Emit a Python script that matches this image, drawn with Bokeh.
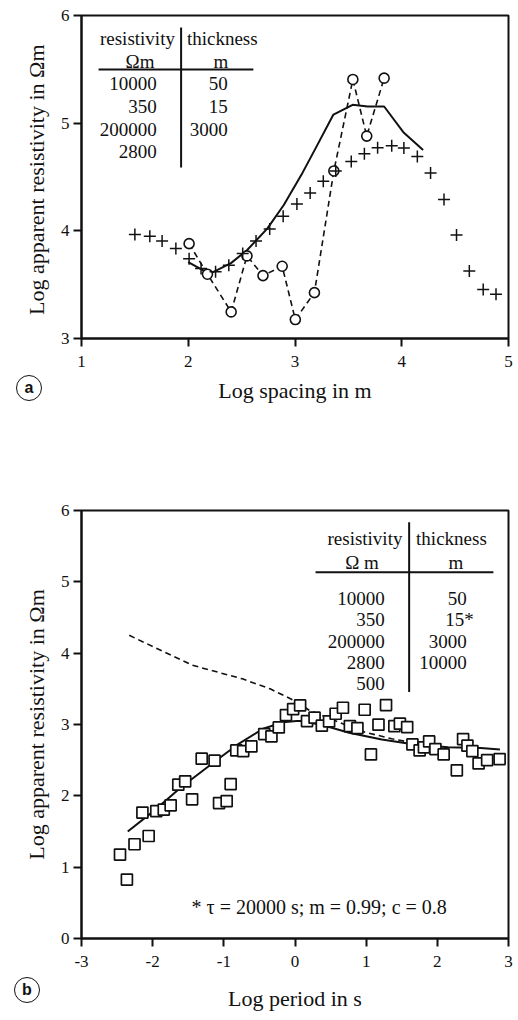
from bokeh.plotting import figure
from bokeh.models import Range1d, FixedTicker, PrintfTickFormatter, Div
from bokeh.layouts import column
from bokeh.core.properties import value
from bokeh.embed import file_html
from bokeh.resources import INLINE

# ---------------- data: panel a ----------------
a_cross_x = [1.50, 1.64, 1.755, 1.884, 2.008, 2.12, 2.256, 2.38, 2.51, 2.635, 2.763, 2.889, 3.018, 3.142,
             3.265, 3.382, 3.527, 3.65, 3.774, 3.906, 4.02, 4.146, 4.27, 4.396, 4.513, 4.633, 4.763, 4.883]
a_cross_y = [3.965, 3.95, 3.906, 3.835, 3.74, 3.65, 3.62, 3.68, 3.79, 3.906, 4.017, 4.135, 4.25, 4.351,
             4.46, 4.556, 4.645, 4.716, 4.772, 4.79, 4.769, 4.69, 4.537, 4.29, 3.962, 3.628, 3.454, 3.41]
a_circ_x = [2.008, 2.18, 2.402, 2.55, 2.70, 2.88, 3.003, 3.182, 3.364, 3.542, 3.672, 3.835]
a_circ_y = [3.881, 3.597, 3.247, 3.767, 3.584, 3.671, 3.176, 3.426, 4.556, 5.406, 4.88, 5.418]
a_model_x = [2.0, 2.2, 2.40, 2.55, 2.74, 2.895, 3.06, 3.20, 3.36, 3.54, 3.68, 3.835, 4.02, 4.2]
a_model_y = [3.71, 3.60, 3.70, 3.82, 4.02, 4.24, 4.52, 4.78, 5.08, 5.17, 5.155, 5.155, 4.91, 4.75]
a_xticks = [1, 2, 3, 4, 5]
a_yticks = [3, 4, 5, 6]
a_res = ["10000", "350", "200000", "2800"]
a_thk = ["50", "15", "3000"]

# ---------------- data: panel b ----------------
b_sq_x = [-2.459, -2.362, -2.255, -2.144, -2.056, -1.949, -1.844, -1.747, -1.64, -1.543, -1.446, -1.311,
          -1.13, -1.067, -0.96, -0.904, -0.825, -0.728, -0.613, -0.432, -0.331, -0.228, -0.127, -0.026,
          0.072, 0.169, 0.275, 0.377, 0.479, 0.571, 0.674, 0.771, 0.877, 0.979, 1.067, 1.173, 1.279,
          1.396, 1.474, 1.576, 1.65, 1.751, 1.812, 1.885, 1.973, 2.089, 2.274, 2.362, 2.423, 2.492,
          2.58, 2.7, 2.875]
b_sq_y = [1.176, 0.826, 1.321, 1.765, 1.437, 1.787, 1.807, 1.867, 2.157, 2.203, 1.951, 2.521,
          2.493, 1.899, 1.927, 2.165, 2.637, 2.627, 2.693, 2.866, 2.833, 2.959, 3.132, 3.216,
          3.268, 3.048, 3.095, 2.983, 3.043, 3.151, 3.235, 2.978, 2.95, 3.207, 2.581, 2.997, 3.272,
          2.978, 3.011, 2.964, 2.721, 2.637, 2.679, 2.763, 2.655, 2.581, 2.357, 2.796, 2.703, 2.627,
          2.455, 2.501, 2.515]
b_model_x = [-2.35, -1.97, -1.60, -1.14, -0.82, -0.45, -0.17, 0.02, 0.11, 0.43, 0.76, 1.22, 1.68, 2.15, 2.61, 2.88]
b_model_y = [1.50, 1.80, 2.12, 2.47, 2.71, 2.94, 3.03, 3.05, 3.048, 2.98, 2.885, 2.79, 2.72, 2.68, 2.67, 2.65]
b_dash_x = [-2.33, -1.44, -0.74, -0.35, 0.0, 0.2, 0.67, 0.99, 1.36, 1.62]
b_dash_y = [4.25, 3.83, 3.64, 3.50, 3.33, 3.20, 3.01, 2.89, 2.80, 2.75]
b_xticks = [-3, -2, -1, 0, 1, 2, 3]
b_yticks = [0, 1, 2, 3, 4, 5, 6]
b_res = ["10000", "350", "200000", "2800", "500"]
b_thk = ["50", "15*", "3000", "10000"]
b_note = "* \u03c4 = 20000 s; m = 0.99; c = 0.8"

panel_letters = ["a", "b"]

SERIF = "Liberation Serif"
INK = "#111111"


def style(p, xlabel, ylabel, xticks, yticks):
    p.grid.visible = False
    p.outline_line_color = INK
    p.outline_line_width = 2
    p.background_fill_color = "white"
    p.border_fill_color = "white"
    p.xaxis.ticker = FixedTicker(ticks=xticks)
    p.yaxis.ticker = FixedTicker(ticks=yticks)
    for ax in (p.xaxis, p.yaxis):
        ax.formatter = PrintfTickFormatter(format="%d")
        ax.axis_line_color = INK
        ax.axis_line_width = 2
        ax.major_tick_line_color = INK
        ax.major_tick_line_width = 2
        ax.major_tick_out = 8
        ax.major_tick_in = 0
        ax.minor_tick_line_color = None
        ax.major_label_text_font = SERIF
        ax.major_label_text_font_size = "17px"
        ax.major_label_text_color = INK
        ax.axis_label_text_font = SERIF
        ax.axis_label_text_font_size = "22px"
        ax.axis_label_text_font_style = "normal"
        ax.axis_label_text_color = INK
    p.xaxis.axis_label = xlabel
    p.yaxis.axis_label = ylabel
    p.xaxis.major_label_standoff = 9
    p.xaxis.axis_label_standoff = 8
    p.yaxis.major_label_standoff = 4
    p.yaxis.axis_label_standoff = 9


def txt(p, xs, ys, texts, size, align="center"):
    p.text(x=xs, y=ys, text=texts, text_font=value(SERIF), text_font_size=size,
           text_align=align, text_baseline="middle", text_color=INK)


def badge(letter, left, top):
    html = ('<div style="box-sizing:border-box;width:26px;height:26px;border:1.4px solid #111;'
            'border-radius:50%;display:flex;align-items:center;justify-content:center;'
            "font-family:'Liberation Sans',sans-serif;font-weight:bold;font-size:16px;"
            'line-height:1;color:#111;background:transparent;">' + letter + '</div>')
    return Div(text=html, width=26, height=26,
               styles={"position": "absolute", "left": f"{left}px", "top": f"{top}px", "z-index": "10"})


# ---------------- panel a ----------------
pa = figure(width=518, height=420, output_backend="svg", toolbar_location=None,
            x_range=Range1d(1, 5), y_range=Range1d(3, 6),
            min_border_left=81, min_border_right=4, min_border_top=15, min_border_bottom=82)
style(pa, "Log spacing in m", "Log apparent resistivity in  \u03a9m", a_xticks, a_yticks)

pa.line(a_model_x, a_model_y, line_color=INK, line_width=2)
pa.line(a_circ_x, a_circ_y, line_color=INK, line_width=1.6, line_dash="6 4")
pa.scatter(a_circ_x, a_circ_y, marker="circle", size=10, fill_color="white", line_color=INK, line_width=1.6)
pa.scatter(a_cross_x, a_cross_y, marker="cross", size=12, line_color=INK, line_width=1.5)

# table a (positions in panel-a data units)
txt(pa, [1.524, 2.319], [5.786, 5.786], ["resistivity", "thickness"], "19px")
txt(pa, [1.548, 2.305], [5.573, 5.573], ["\u03a9m", "m"], "19px")
pa.segment(x0=[1.16, 1.933], y0=[5.499, 5.889], x1=[2.61, 1.933], y1=[5.499, 4.589], line_color=INK, line_width=2)
a_row_y = [5.369 - i * 0.212 for i in range(len(a_res))]
txt(pa, [1.705] * len(a_res), a_row_y, a_res, "19px", "right")
txt(pa, [2.369] * len(a_thk), a_row_y[:len(a_thk)], a_thk, "19px", "right")

# ---------------- panel b ----------------
pb = figure(width=518, height=600, output_backend="svg", toolbar_location=None,
            x_range=Range1d(-3, 3), y_range=Range1d(0, 6),
            min_border_left=76, min_border_right=10, min_border_top=90, min_border_bottom=82)
style(pb, "Log period in s", "Log apparent resistivity in \u03a9m", b_xticks, b_yticks)
pb.xaxis.axis_label_standoff = 16

pb.line(b_dash_x, b_dash_y, line_color=INK, line_width=1.6, line_dash="6 4")
pb.line(b_model_x, b_model_y, line_color=INK, line_width=2)
pb.scatter(b_sq_x, b_sq_y, marker="square", size=11, fill_color="white", line_color=INK, line_width=1.7)

bx_px = 72.05
txt(pb, [0.983, 2.198], [5.606, 5.606], ["resistivity", "thickness"], "19px")
txt(pb, [0.942, 2.26], [5.274, 5.274], ["\u03a9 m", "m"], "19px")
pb.segment(x0=[0.289, 1.604], y0=[5.134, 5.835], x1=[2.788, 1.604], y1=[5.134, 3.454], line_color=INK, line_width=2)
b_row_y = [4.766 - i * 0.298 for i in range(len(b_res))]
txt(pb, [1.261] * len(b_res), b_row_y, b_res, "19px", "right")
b_thk_x = [2.413 + (7 / bx_px if t.endswith("*") else 0) for t in b_thk]
txt(pb, b_thk_x, b_row_y[:len(b_thk)], b_thk, "19px", "right")
txt(pb, [0.34], [0.443], [b_note], "20px")

layout = column(pa, pb, badge(panel_letters[0], 11, 370), badge(panel_letters[1], 9, 972), spacing=0)
open("out.html", "w").write(file_html(layout, INLINE))
